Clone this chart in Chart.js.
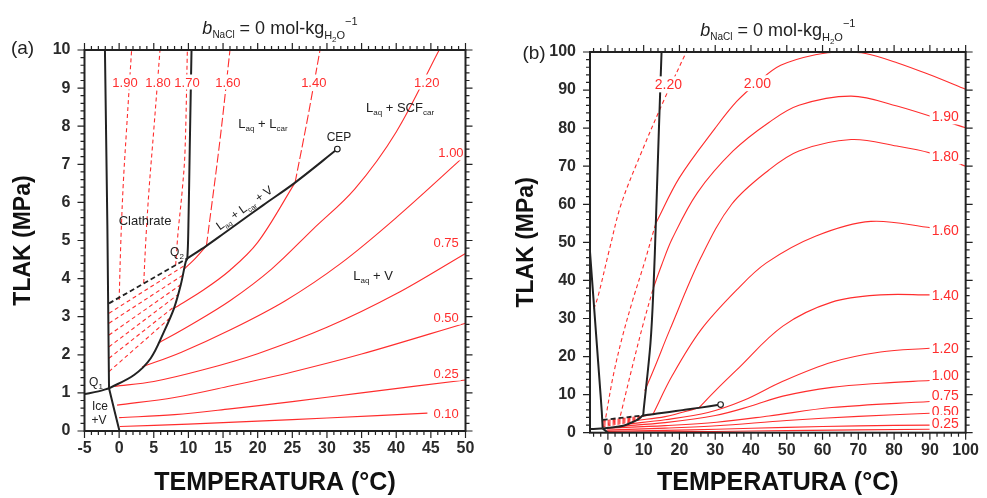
<!DOCTYPE html>
<html>
<head>
<meta charset="utf-8">
<script src="https://cdn.jsdelivr.net/npm/chart.js@4.4.1/dist/chart.umd.min.js"></script>
<style>
  html, body { margin: 0; padding: 0; background: #fff; }
  body { width: 987px; height: 498px; position: relative; overflow: hidden; }
  #ca { position: absolute; left: 0; top: 0; }
  #cb { position: absolute; left: 493px; top: 0; }
</style>
</head>
<body>
<canvas id="ca" width="493" height="498"></canvas>
<canvas id="cb" width="494" height="498"></canvas>
<script>
// ---- panel (a) : T (°C) vs P (MPa), 0-10 MPa ----
const a_xTicks = [-5, 0, 5, 10, 15, 20, 25, 30, 35, 40, 45, 50];
const a_yTicks = [0, 1, 2, 3, 4, 5, 6, 7, 8, 9, 10];

// black phase boundaries
const a_leftLine = [[-1.46, 1.12], [-1.7, 5.4], [-2.05, 10]];
const a_iceHyd   = [[-5, 0.97], [-3, 1.04], [-1.46, 1.12]];
const a_iceLine  = [[-1.46, 1.12], [-0.7, 0.55], [0.05, 0]];
const a_lvh      = [[-1.46, 1.12], [2.15, 1.47], [4.56, 1.91], [6.48, 2.61], [7.92, 3.22], [8.89, 3.83], [9.61, 4.44], [9.84, 4.53], [10.0, 5.4], [10.2, 7.5], [10.45, 10]];
const a_q2Dash   = [[-1.46, 3.35], [9.84, 4.53]];
const a_cepLine  = [[9.84, 4.53], [12.6, 4.86], [15, 5.17], [17.2, 5.46], [20.8, 5.93], [25.4, 6.52], [31.5, 7.4]];
const a_cep      = [[31.5, 7.4]];

// red isochores
const a_iso190   = [[0.0, 3.44], [0.25, 5.0], [0.6, 6.5], [1.1, 8.0], [1.8, 10]];
const a_iso180   = [[3.55, 3.88], [3.85, 5.0], [4.3, 6.3], [5.0, 7.9], [5.9, 10]];
const a_iso170   = [[8.16, 4.35], [8.5, 5.2], [9.1, 6.3], [9.5, 7.3], [9.85, 10]];
const a_iso160   = [[9.4, 4.25], [11, 4.53], [12.6, 4.86]];
const a_iso160up = [[12.6, 4.86], [14.56, 7.64], [16.0, 10]];
const a_iso140   = [[7.9, 3.22], [12, 3.68], [16, 4.22], [20, 4.95], [25.4, 6.52]];
const a_iso140up = [[25.4, 6.52], [27.2, 8.2], [29.0, 10]];
const a_iso120   = [[5.6, 2.3], [10, 2.75], [16, 3.42], [22, 4.25], [28, 5.3], [34, 6.35], [40, 7.85], [46.2, 10]];
const a_iso100   = [[3.3, 1.68], [9, 2.07], [16, 2.65], [24, 3.42], [32, 4.4], [40, 5.6], [50, 7.24]];
const a_iso075   = [[-0.7, 1.17], [5, 1.3], [12, 1.6], [20, 2.03], [30, 2.72], [40, 3.6], [50, 4.66]];
const a_iso050   = [[-0.3, 0.68], [8, 0.88], [16, 1.18], [25, 1.55], [35, 2.02], [50, 2.83]];
const a_iso025   = [[0, 0.35], [8, 0.43], [16, 0.58], [25, 0.77], [35, 1.0], [50, 1.34]];
const a_iso010   = [[0.1, 0.12], [10, 0.18], [20, 0.26], [30, 0.34], [44.5, 0.47]];
const a_fan = [
  [[-1.46, 3.09], [9.5, 4.35]],
  [[-1.46, 2.83], [9.2, 4.09]],
  [[-1.46, 2.52], [8.9, 3.84]],
  [[-1.46, 2.21], [8.5, 3.58]],
  [[-1.46, 1.91], [8.0, 3.27]],
  [[-1.46, 1.56], [7.3, 2.96]]
];
const a_labels = [['1.90', 0.85, 9.16], ['1.80', 5.61, 9.16], ['1.70', 9.8, 9.16], ['1.60', 15.7, 9.16],
  ['1.40', 28.1, 9.16], ['1.20', 44.4, 9.16], ['1.00', 47.9, 7.3], ['0.75', 47.2, 4.96],
  ['0.50', 47.2, 2.99], ['0.25', 47.2, 1.52], ['0.10', 47.2, 0.47]];

// ---- panel (b) : 0-100 MPa ----
const b_xTicks = [0, 10, 20, 30, 40, 50, 60, 70, 80, 90, 100];
const b_yTicks = [0, 10, 20, 30, 40, 50, 60, 70, 80, 90, 100];

const b_leftLine = [[-1.46, 1.12], [-1.7, 5.4], [-2.05, 10], [-5, 47.5]];
const b_lvh      = [[-1.46, 1.12], [2.15, 1.47], [4.56, 1.91], [6.48, 2.61], [7.92, 3.22], [8.89, 3.83], [9.61, 4.44], [9.84, 4.53], [10.0, 6], [11.9, 23.5], [12.8, 39.3], [13.4, 55], [14.2, 78], [15.0, 100]];

const b_iso220   = [[-3.9, 32.5], [-2.7, 36], [0.4, 48], [3.7, 60], [9.1, 73], [15.5, 87], [21.9, 100]];
const b_iso200d  = [[-0.6, 4], [1.5, 15], [4, 25], [7, 35], [10, 44], [13.4, 55]];
const b_iso200   = [[13.4, 55], [20, 67], [30, 80], [36, 87], [41.8, 92], [48.3, 96.5], [58, 99.3], [66, 100], [72, 99.6], [80.8, 97.2], [90, 94], [100, 90.2]];
const b_iso190d  = [[3.5, 4.5], [7, 18], [10, 29], [12.7, 38]];
const b_iso190   = [[12.7, 38], [15, 44], [18, 51], [25, 63], [35, 74], [45, 81.5], [53.4, 86], [68, 88.4], [80.8, 85.8], [100, 80.1]];
const b_iso180   = [[10.3, 11], [13, 17], [17.3, 27], [26, 46], [34.6, 60], [45, 69], [53.4, 74], [68, 77], [80.8, 75.3], [90, 73.5], [100, 70]];
const b_iso160   = [[9.4, 4.25], [12.6, 4.86]];
const b_iso160up = [[12.6, 4.86], [18, 15], [26, 27], [36, 37.5], [44.3, 44.6], [58, 51.6], [73.5, 55.5], [90.5, 53.8]];
const b_iso140   = [[7.9, 3.22], [16, 4.22], [25.4, 6.52]];
const b_iso140up = [[25.4, 6.52], [30, 11], [36, 16.5], [48.9, 28], [62.6, 34.3], [76.2, 36.2], [90, 36.2]];
const b_iso120   = [[5.6, 2.3], [16, 3.4], [28, 5.3], [38, 8.5], [48.9, 13.5], [62.6, 18.5], [76.2, 21.2], [90, 22.2]];
const b_iso100   = [[3.3, 1.68], [16, 2.65], [30, 4.5], [40, 7.0], [48.9, 9.6], [62.6, 11.9], [76.2, 13], [90, 13.7]];
const b_iso075   = [[-0.7, 1.17], [16, 1.86], [30.4, 2.74], [45, 4.4], [62.6, 6.6], [90, 8.2]];
const b_iso050   = [[-0.3, 0.68], [16, 1.21], [30.4, 1.82], [50, 3.2], [70, 4.3], [90, 5.1]];
const b_iso025   = [[0, 0.35], [16, 0.6], [30.4, 0.9], [50, 1.4], [70, 1.8], [90, 2.0]];
const b_iso010   = [[0.1, 0.12], [16, 0.22], [30, 0.33], [50, 0.55], [90, 0.9]];
const b_labels = [['2.20', 16.9, 91.5], ['2.00', 41.8, 91.8], ['1.90', 94.3, 83.1], ['1.80', 94.3, 72.6],
  ['1.60', 94.3, 53.3], ['1.40', 94.3, 36.2], ['1.20', 94.3, 22.3], ['1.00', 94.3, 15.2],
  ['0.75', 94.3, 9.9], ['0.50', 94.3, 5.7], ['0.25', 94.3, 2.55]];

const FONT = "'Liberation Sans', Arial, sans-serif";
const RED = 'rgb(255,45,45)';
const BLK = '#222';

function ds(arr, color, width, dash, smooth) {
  return {
    data: arr.map(p => ({ x: p[0], y: p[1] })),
    showLine: true, borderColor: color, borderWidth: width, borderDash: dash || [],
    pointRadius: 0, pointHoverRadius: 0, fill: false, tension: smooth ? 0.35 : 0
  };
}

function cepPoint(arr) {
  return {
    data: arr.map(p => ({ x: p[0], y: p[1] })), showLine: false,
    pointRadius: 2.8, pointBackgroundColor: '#fff', pointBorderColor: BLK, pointBorderWidth: 1.2
  };
}

// rich text: parts = [text, size, dy, style]
function runs(ctx, x, y, parts, align, color) {
  ctx.save();
  ctx.textBaseline = 'alphabetic';
  ctx.textAlign = 'left';
  ctx.fillStyle = color || BLK;
  const f = p => [p[3], p[1] + 'px', FONT].filter(Boolean).join(' ');
  let w = 0;
  parts.forEach(p => { ctx.font = f(p); w += ctx.measureText(p[0]).width; });
  let cx = align === 'center' ? x - w / 2 : (align === 'right' ? x - w : x);
  const base = y + parts[0][1] * 0.36;
  parts.forEach(p => {
    ctx.font = f(p);
    ctx.fillText(p[0], cx, base + (p[2] || 0));
    cx += ctx.measureText(p[0]).width;
  });
  ctx.restore();
}

function isoLabels(ctx, list, X, Y, size) {
  ctx.save();
  ctx.font = size + 'px ' + FONT;
  ctx.textAlign = 'center';
  ctx.textBaseline = 'middle';
  list.forEach(l => {
    const px = X(l[1]), py = Y(l[2]);
    const w = ctx.measureText(l[0]).width;
    ctx.fillStyle = '#fff';
    ctx.fillRect(px - w / 2 - 2, py - size / 2 - 1, w + 4, size + 2);
    ctx.fillStyle = RED;
    ctx.fillText(l[0], px, py + 1);
  });
  ctx.restore();
}

function titleParts() {
  return [['b', 18, 0, 'italic'], ['NaCl', 10, 4], [' = 0 mol-kg', 18, 0], ['H', 11, 5], ['2', 8, 8], ['O', 11, 5], ['\u22121', 11, -9]];
}

const framePlugin = {
  id: 'frame',
  afterDraw(chart, args, o) {
    const { ctx, chartArea: a, scales: { x, y } } = chart;
    ctx.save();
    ctx.strokeStyle = BLK;
    ctx.lineWidth = 1.2;
    ctx.beginPath();
    const tick = (v, sc, len) => {
      const p = sc.getPixelForValue(v);
      if (sc.axis === 'x') {
        ctx.moveTo(p, a.bottom); ctx.lineTo(p, a.bottom + len);
        ctx.moveTo(p, a.top); ctx.lineTo(p, a.top - len);
      } else {
        ctx.moveTo(a.left, p); ctx.lineTo(a.left - len, p);
        ctx.moveTo(a.right, p); ctx.lineTo(a.right + len, p);
      }
    };
    [[x, o.xMinor], [y, o.yMinor]].forEach(([sc, step]) => {
      const major = sc.ticks.map(t => t.value);
      major.forEach(v => tick(v, sc, 7));
      for (let k = Math.ceil(sc.min / step - 1e-9); k * step <= sc.max + 1e-9; k++) {
        const v = k * step;
        if (!major.some(m => Math.abs(m - v) < 1e-6)) tick(v, sc, 4);
      }
    });
    ctx.stroke();
    ctx.lineWidth = 2;
    ctx.strokeRect(a.left, a.top, a.right - a.left, a.bottom - a.top);
    ctx.restore();
  }
};

const textPlugin = {
  id: 'texts',
  afterDatasetsDraw(chart, args, o) {
    const { ctx, chartArea: a, scales: { x, y } } = chart;
    const X = v => x.getPixelForValue(v), Y = v => y.getPixelForValue(v);
    o.draw(ctx, X, Y, a);
  }
};

function makeChart(id, cfg) {
  return new Chart(document.getElementById(id), {
    type: 'scatter',
    data: { datasets: cfg.datasets },
    options: {
      responsive: false, animation: false, events: [],
      layout: { padding: cfg.padding },
      plugins: {
        legend: { display: false }, tooltip: { enabled: false },
        frame: { xMinor: cfg.xMinor, yMinor: cfg.yMinor },
        texts: { draw: cfg.draw }
      },
      scales: {
        x: {
          type: 'linear', min: cfg.xMin, max: cfg.xMax,
          afterBuildTicks: s => { s.ticks = cfg.xTicks.map(v => ({ value: v })); },
          afterFit: s => { s.height = cfg.xHeight; },
          ticks: { font: { family: FONT, size: 16, weight: 'bold' }, color: '#2a2a2a', padding: 8, maxRotation: 0, autoSkip: false },
          grid: { display: false, drawTicks: false }, border: { display: false },
          title: { display: true, text: 'TEMPERATURA (\u00B0C)', color: '#111',
            font: { family: FONT, size: 25, weight: 'bold' }, padding: { top: 0, bottom: 0 } }
        },
        y: {
          type: 'linear', min: cfg.yMin, max: cfg.yMax,
          afterBuildTicks: s => { s.ticks = cfg.yTicks.map(v => ({ value: v })); },
          afterFit: s => { s.width = cfg.yWidth; },
          ticks: { font: { family: FONT, size: 16, weight: 'bold' }, color: '#2a2a2a', padding: 14, autoSkip: false },
          grid: { display: false, drawTicks: false }, border: { display: false },
          title: { display: true, text: 'TLAK (MPa)', color: '#111',
            font: { family: FONT, size: 23, weight: 'bold' }, padding: { top: 0, bottom: 0 } }
        }
      }
    },
    plugins: [framePlugin, textPlugin]
  });
}

// ---------- panel (a) ----------
const aSets = [
  cepPoint(a_cep),
  ds(a_leftLine, BLK, 2),
  ds(a_iceHyd, BLK, 2, null, true),
  ds(a_iceLine, BLK, 2),
  ds(a_lvh, BLK, 2, null, true),
  ds(a_q2Dash, BLK, 1.8, [5, 3]),
  ds(a_cepLine, BLK, 2, null, true),
  ds(a_iso190, RED, 1.1, [4, 3], true),
  ds(a_iso180, RED, 1.1, [4, 3], true),
  ds(a_iso170, RED, 1.1, [4, 3], true),
  ds(a_iso160, RED, 1.1, null, true),
  ds(a_iso160up, RED, 1.1, [9, 3], true),
  ds(a_iso140, RED, 1.1, null, true),
  ds(a_iso140up, RED, 1.1, [9, 3], true),
  ds(a_iso120, RED, 1.1, null, true),
  ds(a_iso100, RED, 1.1, null, true),
  ds(a_iso075, RED, 1.1, null, true),
  ds(a_iso050, RED, 1.1, null, true),
  ds(a_iso025, RED, 1.1, null, true),
  ds(a_iso010, RED, 1.1, null, true)
].concat(a_fan.map(f => ds(f, RED, 1.1, [4, 3])));

makeChart('ca', {
  datasets: aSets,
  padding: { left: 10, right: 27.5, top: 50, bottom: 0 },
  xMin: -5, xMax: 50, yMin: 0, yMax: 10,
  xTicks: a_xTicks, yTicks: a_yTicks, xMinor: 1, yMinor: 0.2,
  xHeight: 67, yWidth: 74.5,
  draw: (ctx, X, Y, a) => {
    isoLabels(ctx, a_labels, X, Y, 13);
    runs(ctx, X(3.74), Y(5.54), [['Clathrate', 13]], 'center');
    runs(ctx, X(8.35), Y(4.7), [['Q', 12], ['2', 8, 3]], 'center');
    runs(ctx, X(-3.34), Y(1.29), [['Q', 12], ['1', 8, 3]], 'center');
    runs(ctx, X(-2.76), Y(0.66), [['Ice', 12]], 'center');
    runs(ctx, X(-2.9), Y(0.31), [['+V', 12]], 'center');
    runs(ctx, X(20.77), Y(8.08), [['L', 13], ['aq', 8, 3], [' + L', 13], ['car', 8, 3]], 'center');
    runs(ctx, X(40.55), Y(8.5), [['L', 13], ['aq', 8, 3], [' + SCF', 13], ['car', 8, 3]], 'center');
    runs(ctx, X(31.74), Y(7.72), [['CEP', 12]], 'center');
    runs(ctx, X(36.65), Y(4.09), [['L', 13], ['aq', 8, 3], [' + V', 13]], 'center');
    // label riding on the three-phase line
    const ang = Math.atan2(Y(6.52) - Y(4.86), X(25.4) - X(12.6));
    ctx.save();
    ctx.translate(X(18.8), Y(5.67));
    ctx.rotate(ang);
    runs(ctx, 0, -9, [['L', 12], ['aq', 7, 3], [' + L', 12], ['car', 7, 3], [' + V', 12]], 'center');
    ctx.restore();
    runs(ctx, (a.left + a.right) / 2 + 5, a.top - 22, titleParts(), 'center');
    runs(ctx, a.left - 62, a.top - 3, [['(a)', 19]], 'center');
  }
});

// ---------- panel (b) ----------
const bSets = [
  cepPoint(a_cep),
  ds(b_leftLine, BLK, 2),
  ds(a_iceHyd, BLK, 2, null, true),
  ds(a_iceLine, BLK, 2),
  ds(b_lvh, BLK, 2, null, true),
  ds(a_q2Dash, BLK, 1.8, [5, 3]),
  ds(a_cepLine, BLK, 2, null, true),
  ds(b_iso220, RED, 1.1, [4, 3], true),
  ds(b_iso200d, RED, 1.1, [4, 3], true),
  ds(b_iso200, RED, 1.1, null, true),
  ds(b_iso190d, RED, 1.1, [4, 3], true),
  ds(b_iso190, RED, 1.1, null, true),
  ds(b_iso180, RED, 1.1, null, true),
  ds(b_iso160, RED, 1.1, null, true),
  ds(b_iso160up, RED, 1.1, null, true),
  ds(b_iso140, RED, 1.1, null, true),
  ds(b_iso140up, RED, 1.1, null, true),
  ds(b_iso120, RED, 1.1, null, true),
  ds(b_iso100, RED, 1.1, null, true),
  ds(b_iso075, RED, 1.1, null, true),
  ds(b_iso050, RED, 1.1, null, true),
  ds(b_iso025, RED, 1.1, null, true),
  ds(b_iso010, RED, 1.1, null, true)
].concat(a_fan.map(f => ds(f, RED, 1, [3, 2])));

makeChart('cb', {
  datasets: bSets,
  padding: { left: 20, right: 13, top: 52, bottom: 0 },
  xMin: -5, xMax: 100, yMin: 0, yMax: 100,
  xTicks: b_xTicks, yTicks: b_yTicks, xMinor: 2, yMinor: 2,
  xHeight: 65.3, yWidth: 77,
  draw: (ctx, X, Y, a) => {
    isoLabels(ctx, b_labels, X, Y, 14);
    runs(ctx, (a.left + a.right) / 2, a.top - 22, titleParts(), 'center');
    runs(ctx, a.left - 56, a.top, [['(b)', 19]], 'center');
  }
});
</script>
</body>
</html>
